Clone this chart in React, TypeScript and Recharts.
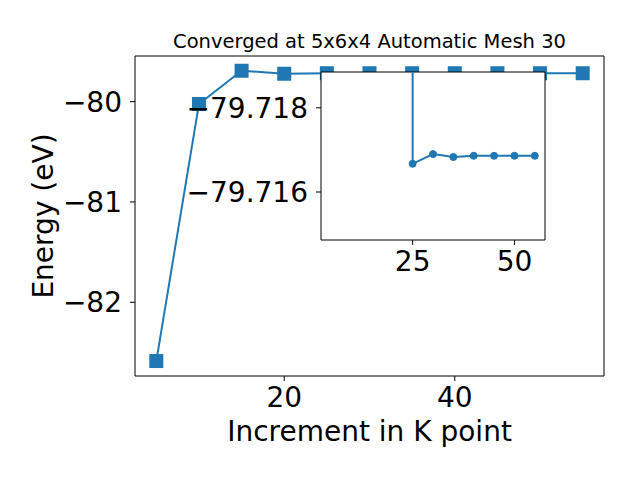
import { LineChart, Line, XAxis, YAxis, CartesianGrid, Label, ReferenceLine } from "recharts";

const kPoints = [5, 10, 15, 20, 25, 30, 35, 40, 45, 50, 55];
const energies = [-82.586, -80.023, -79.692, -79.722, -79.71667, -79.7169, -79.71683, -79.71686, -79.71686, -79.71686, -79.71686];
const mainXTicks = [20, 40];
const mainYTicks = [-82, -81, -80];

// inset: the segment comes straight down from above the view at k = 25
const insetK = [25, 25, 30, 35, 40, 45, 50, 55];
const insetE = [-79.722, -79.71667, -79.7169, -79.71683, -79.71686, -79.71686, -79.71686, -79.71686];
const insetXTicks = [25, 50];
const insetYTicks = [-79.718, -79.716];

const BLUE = "#1f77b4";
const FONT = "DejaVu Sans, sans-serif";

const data = kPoints.map((k, i) => ({ k, e: energies[i] }));
const insetData = insetK.map((k, i) => ({ k, e: insetE[i] }));

const X_DOMAIN: [number, number] = [2.5, 57.5];
const Y_DOMAIN: [number, number] = [-82.735, -79.545];
const INSET_Y_DOMAIN: [number, number] = [-79.71885, -79.71486];

const minus = (s: string) => s.replace("-", "\u2212");

const tickStyle = { fontSize: 28, fill: "#000", fontFamily: FONT };

function Square(props: any) {
  const { cx, cy, index } = props;
  if (cx == null || cy == null) return <g key={index} />;
  return <rect key={index} x={cx - 7} y={cy - 7} width={14} height={14} fill={BLUE} />;
}

export default function App() {
  return (
    <div style={{ position: "absolute", left: 0, top: 0, width: 640, height: 480, background: "#fff", fontFamily: FONT }}>
      <div
        style={{
          position: "absolute",
          left: 135,
          width: 469,
          top: 31.5,
          fontSize: 19.5,
          lineHeight: "20px",
          textAlign: "center",
          color: "#000",
          whiteSpace: "nowrap",
        }}
      >
        Converged at 5x6x4 Automatic Mesh 30
      </div>

      <div style={{ position: "absolute", left: 0, top: 0 }}>
        <LineChart width={640} height={480} data={data} margin={{ top: 56, right: 36, bottom: 64, left: 75 }}>
          <XAxis
            dataKey="k"
            type="number"
            domain={X_DOMAIN}
            ticks={mainXTicks}
            allowDataOverflow
            height={40}
            tickSize={5}
            tickMargin={6}
            tick={tickStyle}
            stroke="#000"
          >
            <Label
              content={() => (
                <text x={369.5} y={441} textAnchor="middle" fontSize={28} fontFamily={FONT} fill="#000">
                  Increment in K point
                </text>
              )}
            />
          </XAxis>
          <YAxis
            type="number"
            domain={Y_DOMAIN}
            ticks={mainYTicks}
            allowDataOverflow
            width={60}
            tickSize={5}
            tickMargin={8}
            tick={tickStyle}
            tickFormatter={(v: number) => minus(String(v))}
            stroke="#000"
          >
            <Label
              content={() => (
                <text
                  x={53}
                  y={216}
                  transform="rotate(-90, 53, 216)"
                  textAnchor="middle"
                  fontSize={28}
                  fontFamily={FONT}
                  fill="#000"
                >
                  Energy (eV)
                </text>
              )}
            />
          </YAxis>
          <ReferenceLine y={Y_DOMAIN[1]} stroke="#000" strokeWidth={1} />
          <ReferenceLine x={X_DOMAIN[1]} stroke="#000" strokeWidth={1} />
          <Line
            dataKey="e"
            stroke={BLUE}
            strokeWidth={2}
            dot={Square}
            activeDot={false}
            isAnimationActive={false}
          />
        </LineChart>
      </div>

      <div style={{ position: "absolute", left: 170, top: 60 }}>
        <LineChart width={400} height={230} data={insetData} margin={{ top: 12, right: 25, bottom: 10, left: 0 }}>
          <CartesianGrid horizontal={false} vertical={false} fill="#fff" fillOpacity={1} />
          <XAxis
            dataKey="k"
            type="number"
            domain={X_DOMAIN}
            ticks={insetXTicks}
            allowDataOverflow
            height={40}
            tickSize={5}
            tickMargin={6}
            tick={tickStyle}
            stroke="#000"
          />
          <YAxis
            type="number"
            domain={INSET_Y_DOMAIN}
            reversed
            ticks={insetYTicks}
            allowDataOverflow
            width={151}
            tickSize={5}
            tickMargin={8}
            tick={tickStyle}
            tickFormatter={(v: number) => minus(v.toFixed(3))}
            stroke="#000"
          />
          <ReferenceLine y={INSET_Y_DOMAIN[0]} stroke="#000" strokeWidth={1} />
          <ReferenceLine x={X_DOMAIN[1]} stroke="#000" strokeWidth={1} />
          <Line
            dataKey="e"
            stroke={BLUE}
            strokeWidth={2}
            dot={{ r: 3.5, fill: BLUE, stroke: BLUE, strokeWidth: 1 }}
            activeDot={false}
            isAnimationActive={false}
          />
        </LineChart>
      </div>
    </div>
  );
}
